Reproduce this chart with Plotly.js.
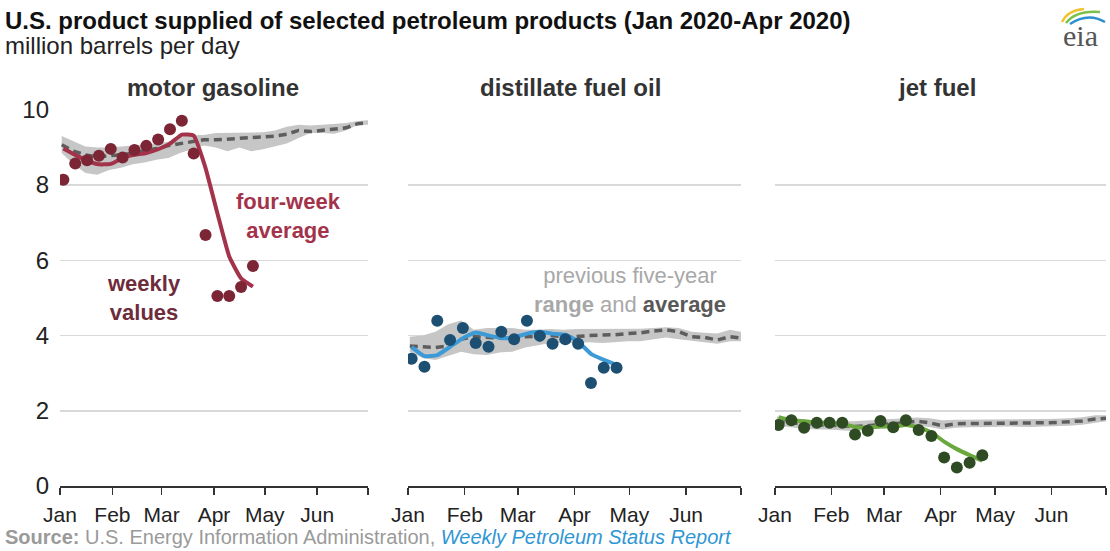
<!DOCTYPE html>
<html>
<head>
<meta charset="utf-8">
<script src="https://cdn.plot.ly/plotly-3.0.1.min.js"></script>
<style>
html,body{margin:0;padding:0;background:#fff;}
#chart{width:1110px;height:551px;}
</style>
</head>
<body>
<div id="chart"></div>
<script>
// ---- data ----
const panelTitles = ['motor gasoline', 'distillate fuel oil', 'jet fuel'];
const monthTicks = ['2020-01-01','2020-02-01','2020-03-01','2020-04-01','2020-05-01','2020-06-01','2020-07-01'];
const monthLabels = ['Jan','Feb','Mar','Apr','May','Jun',''];
const yTicks = [0, 2, 4, 6, 8, 10];

const weeks2020 = ['2020-01-03','2020-01-10','2020-01-17','2020-01-24','2020-01-31','2020-02-07','2020-02-14',
  '2020-02-21','2020-02-28','2020-03-06','2020-03-13','2020-03-20','2020-03-27','2020-04-03','2020-04-10',
  '2020-04-17','2020-04-24'];
const weeksFiveYr = ['2020-01-02','2020-01-09','2020-01-16','2020-01-23','2020-01-30','2020-02-06','2020-02-13',
  '2020-02-20','2020-02-27','2020-03-05','2020-03-12','2020-03-19','2020-03-26','2020-04-02','2020-04-09',
  '2020-04-16','2020-04-23','2020-04-30','2020-05-07','2020-05-14','2020-05-21','2020-05-28','2020-06-04',
  '2020-06-11','2020-06-18','2020-06-25','2020-07-01'];

// motor gasoline
const gasWeekly = [8.14,8.57,8.66,8.78,8.96,8.73,8.93,9.04,9.21,9.48,9.71,8.84,6.67,5.05,5.05,5.29,5.85];
const gasAvg4   = [8.97,8.80,8.65,8.55,8.56,8.72,8.80,8.85,8.95,9.10,9.34,9.31,8.45,7.25,6.10,5.52,5.30];
const gasFiveAvg = [9.07,8.90,8.80,8.75,8.78,8.80,8.85,8.90,8.97,9.05,9.10,9.15,9.20,9.20,9.22,9.22,9.25,9.27,9.30,9.35,9.45,9.42,9.45,9.48,9.52,9.63,9.65];
const gasFiveHi  = [9.30,9.15,9.02,9.00,9.00,9.02,9.05,9.07,9.10,9.15,9.28,9.32,9.33,9.38,9.38,9.38,9.40,9.40,9.45,9.55,9.60,9.58,9.60,9.62,9.65,9.70,9.72];
const gasFiveLo  = [8.85,8.55,8.32,8.27,8.40,8.46,8.55,8.60,8.67,8.72,8.85,8.95,9.05,9.00,8.90,9.00,8.90,8.95,9.02,9.10,9.25,9.38,9.38,9.36,9.45,9.60,9.60];

// distillate fuel oil
const distWeekly = [3.38,3.17,4.39,3.88,4.20,3.80,3.70,4.10,3.90,4.39,3.99,3.78,3.90,3.78,2.74,3.14,3.14];
const distAvg4   = [3.69,3.45,3.48,3.70,3.93,4.08,4.00,3.93,3.95,4.05,4.10,4.05,4.02,3.84,3.51,3.35,3.22];
const distFiveAvg = [3.72,3.70,3.68,3.72,3.90,3.97,3.95,3.93,3.95,3.97,3.98,4.00,3.97,3.97,4.00,4.00,4.02,4.05,4.07,4.12,4.15,4.10,3.97,3.95,3.88,3.97,3.93];
const distFiveHi  = [3.97,4.00,4.10,4.30,4.40,4.15,4.20,4.20,4.20,4.15,4.15,4.17,4.15,4.17,4.17,4.17,4.17,4.17,4.18,4.20,4.22,4.20,4.10,4.07,4.05,4.15,4.10];
const distFiveLo  = [3.57,3.40,3.35,3.45,3.57,3.50,3.48,3.55,3.57,3.68,3.75,3.80,3.80,3.80,3.82,3.80,3.82,3.85,3.85,3.90,3.95,3.90,3.85,3.82,3.78,3.85,3.85];

// jet fuel
const jetWeekly = [1.62,1.75,1.55,1.68,1.68,1.68,1.37,1.47,1.73,1.56,1.75,1.49,1.33,0.76,0.49,0.62,0.82];
const jetAvg4   = [1.83,1.75,1.72,1.68,1.67,1.65,1.57,1.55,1.58,1.58,1.62,1.56,1.42,1.18,0.98,0.82,0.67];
const jetFiveAvg = [1.72,1.68,1.66,1.62,1.62,1.60,1.58,1.60,1.62,1.65,1.68,1.72,1.68,1.60,1.65,1.66,1.66,1.67,1.68,1.67,1.67,1.68,1.69,1.70,1.73,1.78,1.80];
const jetFiveHi  = [1.85,1.80,1.78,1.75,1.75,1.72,1.72,1.74,1.75,1.78,1.80,1.82,1.80,1.75,1.76,1.76,1.76,1.77,1.78,1.77,1.77,1.78,1.79,1.80,1.83,1.88,1.88];
const jetFiveLo  = [1.60,1.56,1.53,1.50,1.50,1.48,1.46,1.50,1.52,1.55,1.57,1.60,1.57,1.50,1.55,1.56,1.56,1.57,1.58,1.57,1.57,1.58,1.59,1.60,1.63,1.68,1.72];

// ---- styles ----
const FONT = 'Liberation Sans, Arial, sans-serif';
const bandColor = '#c6c6c6';
const avgColor = '#5d5d5d';
const panels = [
  {weekly: gasWeekly, avg4: gasAvg4, fa: gasFiveAvg, hi: gasFiveHi, lo: gasFiveLo, dot: '#7b2535', line: '#a3334b'},
  {weekly: distWeekly, avg4: distAvg4, fa: distFiveAvg, hi: distFiveHi, lo: distFiveLo, dot: '#1d4f73', line: '#3c9ad6'},
  {weekly: jetWeekly, avg4: jetAvg4, fa: jetFiveAvg, hi: jetFiveHi, lo: jetFiveLo, dot: '#2f4b24', line: '#6aa83d'}
];

const traces = [];
panels.forEach((p, i) => {
  const xa = i === 0 ? 'x' : 'x' + (i + 1);
  const ya = i === 0 ? 'y' : 'y' + (i + 1);
  traces.push({x: weeksFiveYr, y: p.lo, xaxis: xa, yaxis: ya, mode: 'lines', line: {width: 0, color: bandColor}, hoverinfo: 'skip', showlegend: false});
  traces.push({x: weeksFiveYr, y: p.hi, xaxis: xa, yaxis: ya, mode: 'lines', fill: 'tonexty', fillcolor: bandColor, line: {width: 0, color: bandColor}, hoverinfo: 'skip', showlegend: false});
  traces.push({x: weeksFiveYr, y: p.fa, xaxis: xa, yaxis: ya, mode: 'lines', line: {width: 3.5, color: avgColor, dash: '8px,5px'}, showlegend: false});
  traces.push({x: weeks2020, y: p.avg4, xaxis: xa, yaxis: ya, mode: 'lines', line: {width: 4, color: p.line, shape: 'spline', smoothing: 0.4}, showlegend: false});
  traces.push({x: weeks2020, y: p.weekly, xaxis: xa, yaxis: ya, mode: 'markers', marker: {size: 12, color: p.dot}, showlegend: false});
});

const L = 60, R = 4, T = 109, B = 65, W = 1110, H = 551;
const pw = W - L - R, ph = H - T - B;
const px = v => (v - L) / pw;
const py = v => (H - B - v) / ph;

const domains = [[px(60), px(368)], [px(408), px(741)], [px(775), px(1106)]];

function xAxis(d, anchor) {
  return {domain: d, anchor: anchor, type: 'date', range: ['2020-01-01', '2020-07-01'],
    tickmode: 'array', tickvals: monthTicks, ticktext: monthLabels,
    showline: true, linecolor: '#333', linewidth: 1.5, ticks: 'outside', ticklen: 7, tickwidth: 1.5, tickcolor: '#333',
    showgrid: false, zeroline: false, tickfont: {family: FONT, size: 21, color: '#222'}, ticklabelstandoff: 2, fixedrange: true};
}
function yAxis(anchor, labels) {
  return {domain: [0, 1], anchor: anchor, range: [0, 10.02], tickmode: 'array', tickvals: yTicks,
    showticklabels: labels, showgrid: true, gridcolor: '#d9d9d9', gridwidth: 1.5, zeroline: false, showline: false,
    ticks: '', tickfont: {family: FONT, size: 24, color: '#222'}, ticklabelstandoff: 10, fixedrange: true};
}

const annotations = [];
const panelCenters = [213, 570, 937];
panelTitles.forEach((t, i) => {
  annotations.push({xref: 'paper', yref: 'paper', x: px(panelCenters[i]), y: py(87), xanchor: 'center', yanchor: 'middle',
    text: '<b>' + t + '</b>', showarrow: false, font: {family: FONT, size: 24, color: '#333'}});
});
annotations.push({xref: 'paper', yref: 'paper', x: px(3), y: py(20), xanchor: 'left', yanchor: 'middle',
  text: '<b>U.S. product supplied of selected petroleum products (Jan 2020-Apr 2020)</b>', showarrow: false,
  font: {family: FONT, size: 24, color: '#111'}});
annotations.push({xref: 'paper', yref: 'paper', x: px(3), y: py(46), xanchor: 'left', yanchor: 'middle',
  text: 'million barrels per day', showarrow: false, font: {family: FONT, size: 24, color: '#222'}});
annotations.push({xref: 'paper', yref: 'paper', x: px(3), y: py(537), xanchor: 'left', yanchor: 'middle',
  text: '<b>Source:</b> U.S. Energy Information Administration, <i><span style="color:#2f96d4">Weekly Petroleum Status Report</span></i>',
  showarrow: false, font: {family: FONT, size: 20, color: '#9a9a9a'}});
annotations.push({xref: 'paper', yref: 'paper', x: px(288), y: py(216), xanchor: 'center', yanchor: 'middle',
  text: '<b>four-week<br>average</b>', showarrow: false, font: {family: FONT, size: 22, color: '#a3334b'}});
annotations.push({xref: 'paper', yref: 'paper', x: px(144), y: py(298), xanchor: 'center', yanchor: 'middle',
  text: '<b>weekly<br>values</b>', showarrow: false, font: {family: FONT, size: 22, color: '#6e2c3b'}});
annotations.push({xref: 'paper', yref: 'paper', x: px(630), y: py(290), xanchor: 'center', yanchor: 'middle',
  text: 'previous five-year<br><b>range</b> and <b><span style="color:#595959">average</span></b>', showarrow: false,
  font: {family: FONT, size: 22, color: '#a8a8a8'}});
annotations.push({xref: 'paper', yref: 'paper', x: px(1080), y: py(36), xanchor: 'center', yanchor: 'middle',
  text: 'eia', showarrow: false, font: {family: 'Liberation Serif, DejaVu Serif, serif', size: 30, color: '#555'}});

function pth(pts) {
  return 'M ' + px(pts[0][0]) + ',' + py(pts[0][1]) + ' Q ' + px(pts[1][0]) + ',' + py(pts[1][1]) + ' ' + px(pts[2][0]) + ',' + py(pts[2][1]);
}
const shapes = [
  {type: 'path', xref: 'paper', yref: 'paper', path: pth([[1062, 22], [1068, 10], [1084, 9]]), line: {color: '#f2c230', width: 2.5}},
  {type: 'path', xref: 'paper', yref: 'paper', path: pth([[1066, 23], [1076, 10], [1100, 12]]), line: {color: '#7cc04a', width: 2.5}},
  {type: 'path', xref: 'paper', yref: 'paper', path: pth([[1070, 24], [1088, 12], [1105, 22]]), line: {color: '#2a8fd0', width: 2.5}}
];

const layout = {
  width: W, height: H, margin: {l: L, r: R, t: T, b: B, pad: 0},
  paper_bgcolor: '#fff', plot_bgcolor: 'rgba(0,0,0,0)', showlegend: false,
  font: {family: FONT},
  xaxis: xAxis(domains[0], 'y'), xaxis2: xAxis(domains[1], 'y2'), xaxis3: xAxis(domains[2], 'y3'),
  yaxis: yAxis('x', true), yaxis2: yAxis('x2', false), yaxis3: yAxis('x3', false),
  annotations: annotations, shapes: shapes
};

Plotly.newPlot('chart', traces, layout, {staticPlot: true, displayModeBar: false});
</script>
</body>
</html>
